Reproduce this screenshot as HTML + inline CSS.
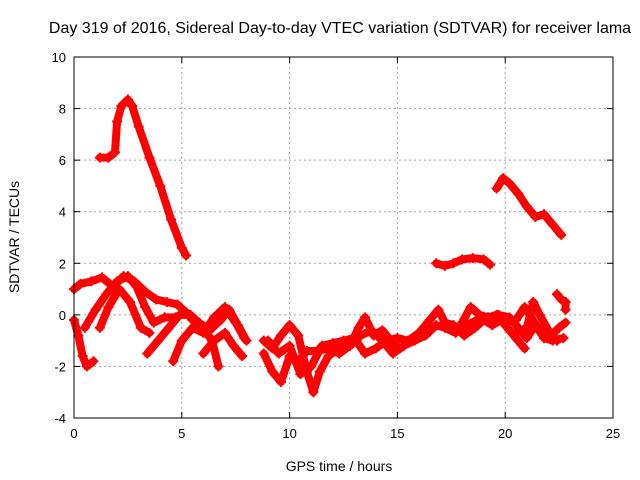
<!DOCTYPE html>
<html><head><meta charset="utf-8"><style>
body{margin:0;background:#fff;}
svg{display:block;font-family:"Liberation Sans",sans-serif;}
</style></head><body>
<svg id="chart" width="640" height="480">
<rect width="640" height="480" fill="#fff"/>
<g id="grid"></g>
<g id="series"></g>
<rect x="74" y="57" width="539" height="361" fill="none" stroke="#000" stroke-width="1"/>
<g id="ticks"></g>
<text x="340" y="33" text-anchor="middle" font-size="16">Day 319 of 2016, Sidereal Day-to-day VTEC variation (SDTVAR) for receiver lama</text>
<text x="339" y="471" text-anchor="middle" font-size="14">GPS time / hours</text>
<text transform="translate(19,237) rotate(-90)" text-anchor="middle" font-size="14">SDTVAR / TECUs</text>
</svg>
<script>
const xTicks=[0,5,10,15,20,25];
const yTicks=[-4,-2,0,2,4,6,8,10];
const trackA=[[1.2,6.1],[1.6,6.1],[1.9,6.3],[2.0,7.5],[2.2,8.1],[2.5,8.35],[2.7,8.1],[3.0,7.3],[3.5,6.1],[4.0,5.0],[4.5,3.7],[5.0,2.6],[5.2,2.3]];
const trackB=[[16.8,2.0],[17.2,1.9],[17.6,2.0],[18.0,2.15],[18.5,2.2],[19.0,2.15],[19.3,1.95]];
const trackC=[[19.6,4.9],[19.9,5.3],[20.2,5.1],[20.6,4.7],[21.0,4.2],[21.4,3.8],[21.8,3.9],[22.2,3.5],[22.6,3.1]];
const trackD=[[0,1.0],[0.3,1.2],[0.8,1.3],[1.3,1.45],[1.8,1.1],[2.3,1.5],[2.8,1.3],[3.3,0.9],[3.8,0.6],[4.3,0.5],[4.8,0.4],[5.3,0.0],[5.8,-0.3],[6.3,-0.6],[6.8,-0.2],[7.2,0.2],[7.6,-0.4],[8.0,-1.0]];
const trackE=[[0,-0.2],[0.2,-0.8],[0.4,-1.6],[0.6,-2.0],[0.9,-1.8]];
const trackF=[[0.5,-0.5],[1.0,0.2],[1.5,0.8],[2.0,1.3],[2.5,1.5],[2.9,1.1],[3.3,0.3],[3.7,-0.3],[4.2,-0.1],[4.7,-0.1],[5.2,0.1],[5.5,-0.2]];
const trackG=[[3.4,-1.5],[3.9,-1.0],[4.4,-0.5],[4.9,0.0],[5.4,0.0],[5.9,-0.4],[6.4,-1.0],[6.7,-2.0]];
const trackH=[[4.6,-1.8],[5.0,-1.0],[5.5,-0.5],[6.0,-0.7],[6.5,-0.1],[7.0,0.3],[7.5,-0.3],[7.9,-0.9]];
const trackI=[[1.2,-0.5],[1.6,0.3],[2.1,1.0],[2.6,0.5],[3.1,-0.5],[3.5,-0.7]];
const trackJ=[[6.0,-1.5],[6.5,-1.0],[7.0,-0.7],[7.4,-1.2],[7.8,-1.6]];
const trackK=[[8.8,-1.0],[9.2,-1.3],[9.6,-0.8],[10.0,-0.4],[10.4,-0.8],[10.8,-2.2],[11.1,-3.0],[11.4,-2.2],[11.8,-1.6],[12.3,-1.3],[12.8,-1.2],[13.2,-0.5],[13.5,-0.1],[13.9,-0.8],[14.3,-0.6],[14.7,-1.0],[15.1,-1.3]];
const trackL=[[8.8,-1.5],[9.2,-2.2],[9.6,-2.6],[10.0,-1.6],[10.4,-1.8],[10.8,-1.4],[11.3,-1.4],[11.8,-1.3],[12.3,-1.5],[12.8,-1.2],[13.3,-0.8],[13.8,-0.6],[14.3,-1.0],[14.8,-1.5],[15.3,-1.2],[15.8,-1.0],[16.3,-0.8],[16.8,-0.4],[17.2,-0.5],[17.7,-0.7],[18.2,-0.4],[18.7,-0.2],[19.2,-0.1],[19.7,0.0],[20.2,-0.1],[20.6,-0.5],[21.0,-0.9],[21.4,-0.4],[21.8,-0.9],[22.2,-1.0],[22.7,-0.9]];
const trackM=[[9.0,-1.0],[9.5,-1.5],[10.0,-1.2],[10.5,-2.3],[11.0,-2.0],[11.5,-1.2],[12.0,-1.1],[12.5,-1.0],[13.0,-0.9],[13.5,-1.5],[14.0,-1.3],[14.5,-1.0],[15.0,-0.9],[15.5,-1.0],[16.0,-0.7],[16.5,-0.2],[16.9,0.2],[17.2,-0.3],[17.6,-0.4],[18.1,-0.8],[18.6,-0.5],[19.0,-0.2],[19.4,-0.4],[19.8,-0.2],[20.2,-0.6],[20.6,-1.0],[20.9,-1.3]];
const trackN=[[18.0,-0.3],[18.4,0.3],[18.8,0.0],[19.2,-0.1],[19.6,0.0],[20.0,-0.3],[20.5,-0.2],[20.9,0.3],[21.2,-0.1],[21.6,-0.6],[22.0,-0.9],[22.5,-0.5],[22.8,-0.3]];
const trackO=[[20.5,-0.7],[21.0,-0.5],[21.3,0.5],[21.6,0.0],[22.0,-0.6],[22.4,-1.0]];
const trackP=[[22.4,0.8],[22.6,0.6],[22.8,0.5],[22.8,0.2]];
const tracks=[trackA,trackB,trackC,trackD,trackE,trackF,trackG,trackH,trackI,trackJ,trackK,trackL,trackM,trackN,trackO,trackP];

const NS="http://www.w3.org/2000/svg";
const X0=74,X1=613,Y0=418,Y1=57;
const xs=h=>X0+(h-0)/25*(X1-X0);
const ys=v=>Y0-(v+4)/14*(Y0-Y1);
function mk(t,a,p){const e=document.createElementNS(NS,t);for(const k in a)e.setAttribute(k,a[k]);p.appendChild(e);return e;}
const grid=document.getElementById('grid'),ticks=document.getElementById('ticks'),ser=document.getElementById('series');
xTicks.forEach(t=>{
  const x=xs(t);
  if(t>0&&t<25){const l=mk('line',{x1:x,x2:x,y1:Y1,y2:Y0,stroke:'#a0a0a0','stroke-dasharray':'2,3'},grid);
  
  }
  mk('line',{x1:x,x2:x,y1:Y0,y2:Y0-6,stroke:'#000'},ticks);
  mk('line',{x1:x,x2:x,y1:Y1,y2:Y1+6,stroke:'#000'},ticks);
  const tx=mk('text',{x:x,y:Y0+20,'text-anchor':'middle','font-size':'13'},ticks);
  tx.textContent=t;
  
  
});
yTicks.forEach(t=>{
  const y=ys(t);
  if(t>-4&&t<10){const l=mk('line',{x1:X0,x2:X1,y1:y,y2:y,stroke:'#a0a0a0','stroke-dasharray':'2,3'},grid);
  
  }
  mk('line',{x1:X0,x2:X0+6,y1:y,y2:y,stroke:'#000'},ticks);
  mk('line',{x1:X1,x2:X1-6,y1:y,y2:y,stroke:'#000'},ticks);
  const tx=mk('text',{x:X0-8,y:y+5,'text-anchor':'end','font-size':'13'},ticks);
  tx.textContent=t;
  
  
});
tracks.forEach((tr,i)=>{
  const g=mk('g',{},ser);
  
  
  mk('polyline',{points:tr.map(p=>xs(p[0])+','+ys(p[1])).join(' '),fill:'none',stroke:'#ff0000','stroke-width':'8','stroke-linejoin':'round','stroke-linecap':'round'},g);
  tr.forEach(p=>{
    const x=xs(p[0]),y=ys(p[1]);
    mk('path',{d:`M${x-5},${y}H${x+5}M${x},${y-5}V${y+5}`,stroke:'#ff0000','stroke-width':'2'},g);
  });
});
</script>
</body></html>
